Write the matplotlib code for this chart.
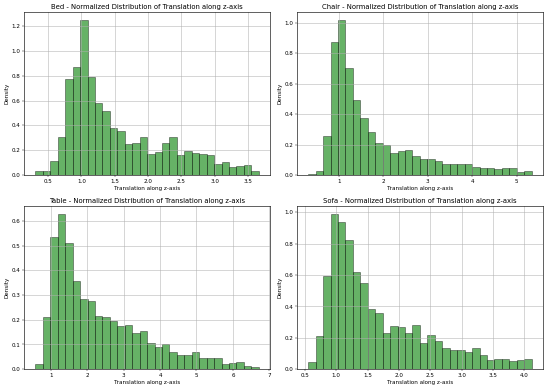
"""Normalized histograms of z-axis translation for four object classes."""

import matplotlib

matplotlib.use("Agg")
import matplotlib.pyplot as plt
import numpy as np

CATEGORIES = ["Bed", "Chair", "Table", "Sofa"]

# first / last bin edge (30 equal-width bins)
BIN_RANGES = {
    "Bed": (0.31, 3.66),
    "Chair": (0.313, 5.335),
    "Table": (0.58, 6.71),
    "Sofa": (0.553, 4.12),
}
N_BINS = 30

BED_DENSITY = [
    0.035, 0.03, 0.11, 0.31, 0.776, 0.868, 1.25, 0.79, 0.578, 0.513,
    0.38, 0.354, 0.251, 0.262, 0.305, 0.168, 0.184, 0.26, 0.305, 0.165,
    0.19, 0.176, 0.168, 0.162, 0.092, 0.103, 0.062, 0.07, 0.084, 0.03,
]
CHAIR_DENSITY = [
    0.007, 0.03, 0.255, 0.87, 1.018, 0.705, 0.49, 0.377, 0.284, 0.211,
    0.2, 0.143, 0.159, 0.165, 0.126, 0.104, 0.108, 0.095, 0.075, 0.07,
    0.075, 0.073, 0.055, 0.044, 0.044, 0.04, 0.048, 0.044, 0.018, 0.024,
]
TABLE_DENSITY = [
    0.019, 0.211, 0.537, 0.629, 0.511, 0.356, 0.283, 0.276, 0.217, 0.211,
    0.195, 0.175, 0.18, 0.145, 0.156, 0.106, 0.089, 0.102, 0.068, 0.057,
    0.057, 0.07, 0.045, 0.047, 0.046, 0.02, 0.024, 0.027, 0.014, 0.01,
]
SOFA_DENSITY = [
    0.047, 0.212, 0.596, 0.991, 0.938, 0.825, 0.617, 0.551, 0.382, 0.359,
    0.231, 0.276, 0.267, 0.233, 0.282, 0.167, 0.22, 0.177, 0.132, 0.122,
    0.122, 0.109, 0.137, 0.09, 0.06, 0.068, 0.068, 0.049, 0.06, 0.064,
]

DENSITIES = {
    "Bed": BED_DENSITY,
    "Chair": CHAIR_DENSITY,
    "Table": TABLE_DENSITY,
    "Sofa": SOFA_DENSITY,
}


def main() -> None:
    plt.rcParams["font.size"] = 11
    figure, axes = plt.subplots(2, 2, figsize=(15, 10.61), dpi=550 / 15)
    figure.subplots_adjust(
        left=0.044, right=0.987, bottom=0.051, top=0.969,
        wspace=0.11, hspace=0.19,
    )

    for axis, name in zip(axes.flat, CATEGORIES):
        low, high = BIN_RANGES[name]
        edges = np.linspace(low, high, N_BINS + 1)
        heights = np.asarray(DENSITIES[name])
        axis.hist(
            edges[:-1],
            bins=edges,
            weights=heights,
            color="g",
            alpha=0.6,
            edgecolor="black",
            linewidth=1.2,
        )
        axis.set_title(
            f"{name} - Normalized Distribution of Translation along z-axis",
            fontsize=13.5,
        )
        axis.set_xlabel("Translation along z-axis")
        axis.set_ylabel("Density")
        axis.grid(True, linewidth=1.0)
        for spine in axis.spines.values():
            spine.set_linewidth(1.2)

    figure.savefig("out.png", dpi=550 / 15)
    plt.close(figure)


if __name__ == "__main__":
    main()
